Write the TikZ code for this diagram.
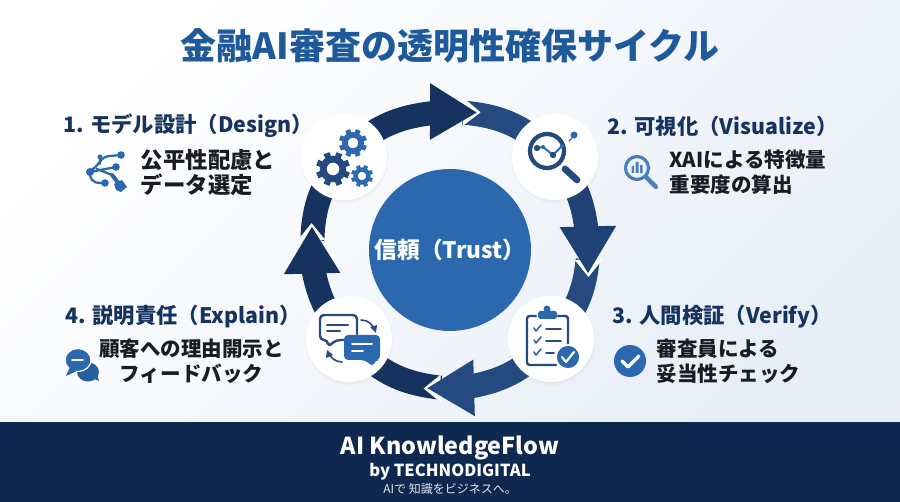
\documentclass[tikz,border=0pt]{standalone}
\usepackage{fontspec}
\setmainfont{Noto Sans CJK JP}
\usetikzlibrary{positioning,calc,shadows}
\definecolor{mynavy}{RGB}{22,50,95}
\definecolor{mybarnavy}{RGB}{14,40,80}
\definecolor{myblue}{RGB}{43,104,173}
\definecolor{mysteel}{RGB}{36,74,128}
\definecolor{mymid}{RGB}{30,66,118}
\definecolor{mytitle}{RGB}{30,90,155}
\definecolor{mybg}{RGB}{232,238,247}
\definecolor{myink}{RGB}{26,28,34}
\pgfdeclarelayer{background}
\pgfsetlayers{background,main}
% id, from, to, tip angle, bend in, bend out, head colour, tail colour
\newcommand\ringarrow[8]{
	\pgfmathsetmacro\tipa{#4}
	\coordinate (tail#1) at (\tipa-5.5:138);
	\coordinate (base#1) at (\tipa-18:138);
	\draw[ringband,#8] (tail#1) to[bend left=#6] (#3.center);
	\fill[white] (\tipa-6:153) -- (\tipa+1.5:141) -- (\tipa-5:125) -- cycle;
	\draw[ringband,#7] (#2.center) to[bend left=#5] (base#1);
	\fill[#7] (\tipa-17.8:168) -- (\tipa:140) -- (\tipa-21.3:112) -- cycle;
}
\newcommand\gearicon[4]{
	\begin{scope}[shift={(#1,#2)}]
		\foreach \k in {0,45,...,315}
			\draw[#4,line width=#3*.27pt] (\k+22.5:#3*.7) -- (\k+22.5:#3);
		\draw[#4,line width=#3*.3pt] (0,0) circle[radius=#3*.58];
	\end{scope}
}
\begin{document}
\begin{tikzpicture}[x=.75pt,y=-.75pt,
		ringband/.style={line width=18pt},
		stepdisc/.style={
		  circle,
		  fill=white,
		  minimum size=64.5pt,
		  circular drop shadow={shadow xshift=0pt,shadow yshift=-1.5pt,opacity=.16,shadow scale=1.04}},
		headline/.style={
		  inner sep=0pt,
		  text=mynavy,
		  font={\fontsize{16}{20}\selectfont\bfseries}},
		subtext/.style={
		  inner sep=0pt,
		  text=myink,
		  font={\fontsize{15.4}{18.75}\selectfont\bfseries}},
		icondark/.style={draw=mysteel,line width=1.8pt,line cap=round,line join=round},
		iconblue/.style={draw=myblue,line width=1.5pt,line cap=round,line join=round},
		]
		\path[use as bounding box] (0,0) rectangle (900,502);
		\begin{pgfonlayer}{background}
		\shade[top color=white,bottom color=mybg,shading angle=45] (0,0) rectangle (900,422);
		\end{pgfonlayer}
		\fill[mybarnavy] (0,422) rectangle (900,502);
		\node[font={\fontsize{27}{32}\selectfont\bfseries},text=mytitle,inner sep=0pt] (title) at (450,46) {金融AI審査の透明性確保サイクル};
		\node[circle,fill=myblue,minimum size=121.5pt,text=white,inner sep=0pt,
		  font={\fontsize{17}{21}\selectfont\bfseries}] (trust) at (450,250) {信頼（Trust）};
		\node[stepdisc] (design) at (344,157) {};
		\node[stepdisc] (visual) at (555,157) {};
		\node[stepdisc] (verify) at (551,339) {};
		\node[stepdisc] (explain) at (349,339) {};
		\begin{pgfonlayer}{background}
		\begin{scope}[shift={(450,250)}]
		\ringarrow{A}{design}{visual}{-79}{20}{21}{mynavy}{mysteel}
		\ringarrow{B}{visual}{verify}{9.5}{16}{19}{mymid}{mysteel}
		\ringarrow{C}{verify}{explain}{99.3}{20}{22}{mysteel}{mynavy}
		\ringarrow{D}{explain}{design}{189.5}{16}{19}{mynavy}{mynavy}
		\end{scope}
		\end{pgfonlayer}
		\node[headline] (headA) at (188,126) {1. モデル設計（Design）};
		\node[headline] (headB) at (722.5,126) {2. 可視化（Visualize）};
		\node[headline] (headC) at (722,317) {3. 人間検証（Verify）};
		\node[headline] (headD) at (183,317) {4. 説明責任（Explain）};
		\node[subtext,font={\fontsize{16.8}{18.75}\selectfont\bfseries},align=left,below=8.5pt of headA,xshift=15pt] (subA) {公平性配慮と\\データ選定};
		\node[subtext,align=left,below=10pt of headB,xshift=19pt] (subB) {XAIによる特徴量\\重要度の算出};
		\node[subtext,align=left,below=7.75pt of headC,xshift=4.85pt] (subC) {審査員による\\妥当性チェック};
		\node[subtext,align=center,below=7.75pt of headD,xshift=6.4pt] (subD) {顧客への理由開示と\\フィードバック};
		\node[inner sep=0pt,text=white,font={\fontsize{17.5}{20}\selectfont\bfseries}] (brand) at (450,448) {AI KnowledgeFlow};
		\node[inner sep=0pt,text=white,font={\fontsize{12.4}{15}\selectfont\bfseries},below=2.3pt of brand] (byline) {by TECHNODIGITAL};
		\node[inner sep=0pt,text=white!88!mybarnavy,font={\fontsize{9}{11}\selectfont},below=2pt of byline] (motto) {AIで 知識をビジネスへ。};
		% gears
		\gearicon{353}{143}{14}{myblue}
		\gearicon{333}{169}{17}{mysteel}
		\gearicon{362}{176}{11}{myblue}
		% large magnifier
		\draw[icondark,line width=3.2pt] (547,151) circle[radius=17];
		\draw[icondark,line width=5pt] (565,169) -- (577,180);
		\draw[iconblue] (537,148) -- (543,147) -- (553,155) -- (562,146);
		\fill[mysteel] (537,148) circle[radius=3.2] (553,155) circle[radius=3.2];
		\fill[myblue] (543,147) circle[radius=2] (562,146) circle[radius=2];
		\fill[myblue] (574,135) circle[radius=3.5];
		\draw[iconblue,line width=1pt] (572,138) -- (569,141);
		% clipboard
		\draw[icondark,rounded corners=2pt] (536,316) -- (527,316) -- (527,365) -- (556,365);
		\draw[icondark,rounded corners=2pt] (558,316) -- (568,316) -- (568,344);
		\fill[myblue,rounded corners=2pt] (538,311) rectangle (557,319);
		\fill[myblue] (547,309) circle[radius=3.5];
		\draw[iconblue,line width=1.2pt] (534,328) -- (536,331) -- (541,325);
		\draw[iconblue,line width=1.2pt] (534,340) -- (536,343) -- (541,337);
		\draw[iconblue,line width=1.2pt] (534,352) -- (536,355) -- (541,349);
		\draw[icondark,line width=1.4pt] (546,329) -- (561,329) (546,341) -- (561,341) (546,353) -- (554,353);
		\fill[myblue,draw=white,line width=1.2pt] (568,357) circle[radius=12];
		\draw[white,line width=1.6pt,line cap=round,line join=round] (562,357) -- (566,362) -- (574,352);
		% large chat pair
		\draw[icondark,rounded corners=3pt] (344,340) -- (336,340) -- (328,347) -- (328,340) -- (320,340) -- (320,315) -- (357,315) -- (357,334);
		\draw[icondark,line width=1.5pt] (327,325) -- (348,325) (327,331) -- (340,331);
		\fill[myblue,rounded corners=3pt] (344,335) -- (380,335) -- (380,360) -- (375,360) -- (373,367) -- (365,360) -- (344,360) -- cycle;
		\draw[white,line width=1.5pt,line cap=round] (352,344) -- (372,344) (352,351) -- (363,351);
		\draw[icondark,line width=1.2pt] (361,320) .. controls (368,320) and (372,324) .. (374,329);
		\fill[mysteel] (376,333) -- (370,327) -- (377,325) -- cycle;
		\draw[icondark,line width=1.2pt] (342,362) .. controls (336,362) and (331,358) .. (329,354);
		\fill[mysteel] (327,350) -- (333,355) -- (326,358) -- cycle;
		% tree icon
		\draw[iconblue,line width=1.7pt] (91,170) .. controls (98,168) and (100,156) .. (110,156) -- (121,155)
		  (91,172) -- (100,170) -- (116,167) (90,175) .. controls (92,184) and (98,183) .. (105,183)
		  (100,157) -- (100,164) (97,169) -- (112,175);
		\draw[iconblue,line width=3pt] (112,175) -- (120,185);
		\fill[myblue] (90,172) circle[radius=4] (100,157) circle[radius=2.5] (121,155) circle[radius=3.8]
		  (116,167) circle[radius=3.8] (105,183) circle[radius=3.8];
		\fill[myblue] (114,184) -- (122,180) -- (127,187) -- (121,192) -- (116,190) -- cycle;
		% small magnifier
		\draw[draw=myblue!85,line width=2.4pt] (637,168) circle[radius=11.5];
		\draw[draw=myblue!85,line width=3.2pt,line cap=round] (646,177) -- (656,187);
		\fill[myblue!85] (631.5,166) rectangle (634,173) (635.5,162) rectangle (638.5,173) (640,165) rectangle (642.5,173);
		% small chat pair
		\fill[myblue!90!black] (88,372) ellipse[x radius=11,y radius=9.5];
		\fill[myblue!90!black] (92,378) -- (99,381) -- (96,372) -- cycle;
		\fill[myblue,draw=white,line width=.9pt] (78,360) ellipse[x radius=13,y radius=11.5];
		\fill[myblue] (70,367) -- (66,376) -- (77,371) -- cycle;
		\draw[white,line width=1.2pt,line cap=round] (72,360) -- (83,360);
		% check badge
		\fill[myblue] (630,361) circle[radius=16];
		\draw[white,line width=2.4pt,line cap=round,line join=round] (622,361) -- (628,367) -- (639,356);
\end{tikzpicture}
\end{document}
